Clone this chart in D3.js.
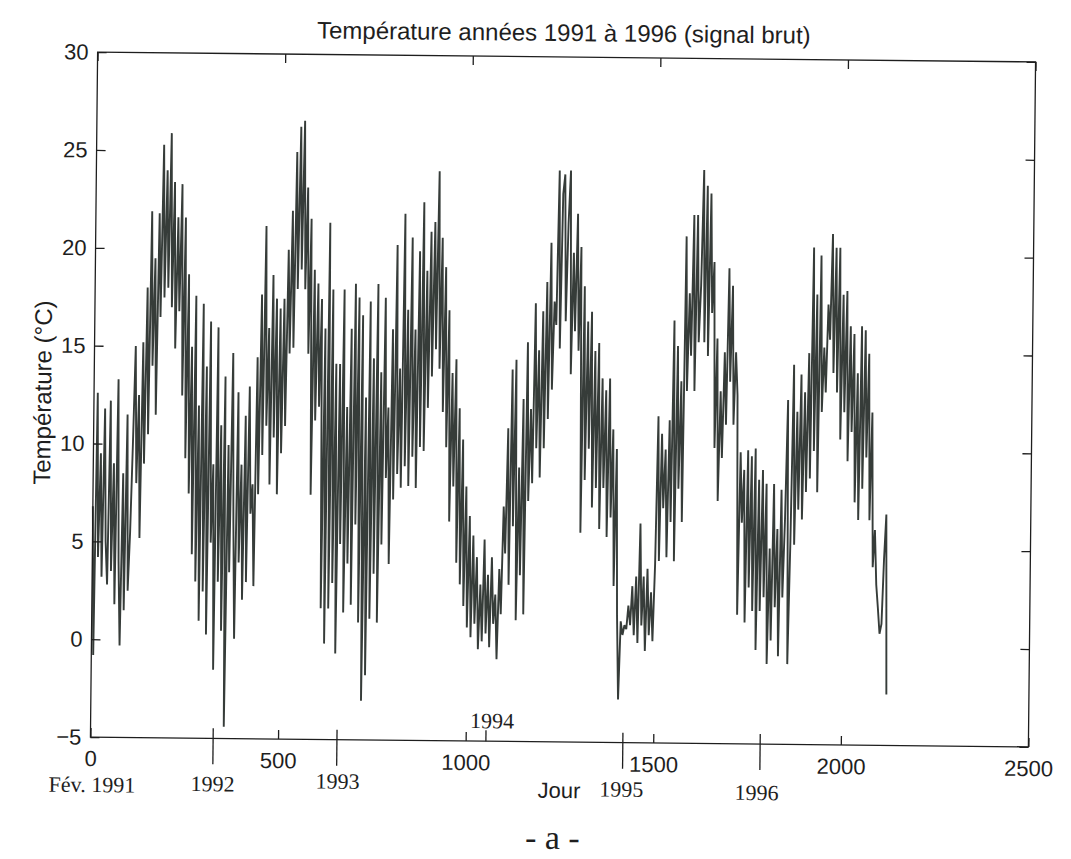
<!DOCTYPE html>
<html>
<head>
<meta charset="utf-8">
<script src="https://cdn.jsdelivr.net/npm/d3@7"></script>
<style>
  html, body { margin: 0; padding: 0; background: #ffffff; }
  svg { display: block; }
  .sans { font-family: "Liberation Sans", Arial, Helvetica, sans-serif; }
  .serif { font-family: "Liberation Serif", "Times New Roman", serif; }
</style>
</head>
<body>
<svg id="chart" width="1071" height="859"></svg>
<script>
// ---------------- data (one value every 5 days) ----------------
const stepDays = 5;

const temp1991 = { start: 0, values: [
  6.8, -0.8, 12.6, 4.2, 9.5, 3.2, 11.8, 5.0, 2.8, 12.2,
  3.5, 9.0, 1.8, 13.3, 4.0, -0.3, 8.5, 1.5, 11.5, 2.5,
  5.5, 10.0, 15.0, 8.0, 12.5, 5.2, 15.2, 9.0, 18.0, 10.5,
  21.9, 14.0, 19.5, 11.5, 21.8, 16.5, 25.3, 17.5, 24.0, 18.0,
  25.9, 17.0, 23.4, 14.9, 21.6, 16.8, 23.3, 12.5, 21.6, 9.3,
  18.7, 7.5, 15.0, 4.4, 17.6, 3.0, 12.0, 1.0, 17.2, 2.5,
  14.0, 0.3, 16.3, 5.0, 9.0, -1.5, 16.0, 3.0, 11.0, 0.5
]};

const temp1992 = { start: 350, values: [
  13.5, -4.4, 10.0, 3.5, 14.7, 6.0, 0.1, 12.7, 4.0, 9.0,
  2.1, 11.5, 3.0, 13.0, 6.5, 8.0, 2.8, 14.5, 7.5, 17.7,
  9.5, 21.2, 11.0, 16.0, 8.0, 18.7, 10.4, 17.5, 7.5, 17.0,
  9.6, 17.5, 11.0, 20.0, 14.7, 22.0, 15.0, 25.0, 18.0, 26.3,
  19.0, 26.6, 18.0, 23.2, 14.7, 21.6, 7.5, 19.0, 11.3, 18.3,
  12.0, 17.5, 1.7, 16.0, -0.1, 21.4, 1.7, 18.0, 3.0, 14.2,
  -0.6, 14.2, 5.0, 18.0, 1.5, 12.0, 4.0, 16.0, 1.9, 18.3
]};

const temp1993 = { start: 700, values: [
  6.0, 17.6, 1.0, 16.7, -3.0, 12.5, -1.7, 17.4, 1.2, 14.5,
  3.5, 18.3, 1.0, 13.8, 5.0, 17.6, 8.4, 12.0, 4.0, 16.0,
  7.3, 20.3, 8.6, 14.0, 7.9, 21.9, 9.0, 17.0, 8.0, 20.7,
  9.5, 16.0, 7.9, 20.0, 10.0, 22.5, 9.8, 19.0, 12.0, 21.0,
  13.6, 21.5, 15.0, 24.1, 14.0, 20.7, 11.8, 19.2, 10.0, 17.0,
  6.2, 13.8, 8.0, 14.5, 4.1, 12.0, 3.0, 10.4, 1.9, 8.0,
  0.8, 6.5, 0.3, 5.5, 1.0, 4.4, -0.3, 3.0, 0.1, 5.3
]};

const temp1994 = { start: 1050, values: [
  0.5, 3.5, -0.2, 4.4, 1.0, 2.5, -0.8, 3.8, 1.5, 7.0,
  4.6, 11.0, 3.0, 14.0, 6.0, 14.5, 1.2, 9.0, 3.5, 12.5,
  1.5, 15.4, 7.3, 12.0, 8.2, 17.4, 10.0, 15.0, 8.5, 17.0,
  10.0, 18.5, 11.5, 20.5, 13.0, 17.5, 16.3, 24.2, 15.1, 23.0,
  24.0, 16.5, 21.5, 24.2, 13.8, 20.0, 16.0, 22.0, 15.0, 20.3,
  5.7, 18.3, 8.4, 16.5, 10.0, 17.0, 7.0, 15.0, 8.0, 15.4,
  5.9, 13.6, 8.0, 13.0, 5.5, 13.6, 6.5, 11.0, 3.0, 10.0
]};

const temp1995 = { start: 1400, values: [
  1.5, -2.8, 1.2, 0.5, 1.0, 0.8, 2.0, 1.0, 3.0, 0.5,
  3.5, 0.1, 6.2, 1.0, 3.5, -0.3, 3.9, 0.5, 2.7, 0.2,
  4.1, 11.7, 4.3, 10.8, 7.0, 10.0, 4.5, 11.5, 6.3, 16.6,
  4.3, 15.3, 8.0, 13.5, 6.3, 20.9, 13.0, 18.0, 14.8, 22.0,
  13.0, 22.0, 15.5, 18.4, 24.3, 15.5, 23.5, 14.8, 23.1, 17.0,
  19.6, 10.1, 15.7, 7.4, 13.0, 9.6, 15.0, 11.3, 19.3, 13.5,
  18.4, 11.3, 15.0, 12.8, 1.6, 9.9, 6.3, 9.0, 1.2, 10.0
]};

const temp1996 = { start: 1750, values: [
  3.0, 9.7, 1.8, 10.1, -0.2, 8.5, 1.8, 9.0, 2.5, 8.3,
  -0.9, 5.0, 0.3, 8.3, 2.0, 6.0, -0.5, 8.0, 2.5, 6.5,
  12.6, -0.9, 5.4, 14.4, 5.2, 12.0, 7.0, 13.9, 6.5, 13.0,
  7.9, 15.0, 8.6, 20.4, 10.0, 18.0, 7.9, 20.0, 12.0, 15.3,
  13.0, 17.5, 15.7, 21.1, 14.0, 20.4, 13.0, 20.4, 10.6, 18.0,
  12.0, 18.2, 9.5, 16.4, 11.0, 16.0, 7.4, 14.0, 6.5, 16.4,
  8.1, 16.2, 9.7, 15.0, 6.5, 12.0, 4.1, 6.0, 3.2, 2.0,
  0.7, 1.2, 4.5, 6.8, -2.4
]};

const xTicks = [0, 500, 1000, 1500, 2000, 2500];
const yTicks = [-5, 0, 5, 10, 15, 20, 25, 30];
const yearLabels = ["Fév. 1991", "1992", "1993", "1994", "1995", "1996"];
const yearDays   = [0, 327, 657, 1054, 1419, 1785];
const yearLong   = [false, true, true, false, true, true];

const titleText = "Température années 1991 à 1996 (signal brut)";
const xLabelText = "Jour";
const yLabelText = "Température (°C)";
const captionText = "- a -";

// ---------------- drawing ----------------
const svg = d3.select("#chart");
const g = svg.append("g").attr("transform", "rotate(0.6 563 400)");

const x = d3.scaleLinear().domain([0, 2500]).range([94, 1032]);
const y = d3.scaleLinear().domain([-5, 30]).range([742, 57]);

const ink = "#1e1e1e";
const dataInk = "#363c39";

// data points
const series = [temp1991, temp1992, temp1993, temp1994, temp1995, temp1996];
const points = [];
series.forEach(s => s.values.forEach((v, i) => points.push({ day: s.start + i * stepDays, t: v })));

g.append("path")
  .datum(points)
  .attr("fill", "none")
  .attr("stroke", dataInk)
  .attr("stroke-width", 1.9)
  .attr("stroke-linejoin", "miter")
  .attr("stroke-miterlimit", 2)
  .attr("d", d3.line().x(d => x(d.day)).y(d => y(d.t)));

// frame
g.append("rect")
  .attr("x", x(0)).attr("y", y(30))
  .attr("width", x(2500) - x(0)).attr("height", y(-5) - y(30))
  .attr("fill", "none").attr("stroke", ink).attr("stroke-width", 1.3);

const fontTick = 22;

// bottom axis
const axB = g.append("g").attr("transform", `translate(0,${y(-5)})`)
  .call(d3.axisBottom(x).tickValues(xTicks).tickSizeInner(-9).tickSizeOuter(0).tickPadding(13.5).tickFormat(d3.format("d")));
// top axis
const axT = g.append("g").attr("transform", `translate(0,${y(30)})`)
  .call(d3.axisTop(x).tickValues(xTicks).tickSizeInner(-9).tickSizeOuter(0).tickFormat(""));
// left axis
const axL = g.append("g").attr("transform", `translate(${x(0)},0)`)
  .call(d3.axisLeft(y).tickValues(yTicks).tickSizeInner(-9).tickSizeOuter(0).tickPadding(9).tickFormat(d3.format("d")));
// right axis
const axR = g.append("g").attr("transform", `translate(${x(2500)},0)`)
  .call(d3.axisRight(y).tickValues(yTicks).tickSizeInner(-9).tickSizeOuter(0).tickFormat(""));

[axB, axT, axL, axR].forEach(a => {
  a.select(".domain").remove();
  a.selectAll("line").attr("stroke", ink).attr("stroke-width", 1.3);
  a.selectAll("text").attr("class", "sans").attr("fill", ink)
    .style("font-size", fontTick + "px").attr("font-family", null);
});

// year markers
yearDays.forEach((d, i) => {
  if (i === 0) return;
  const yb = y(-5);
  g.append("line")
    .attr("x1", x(d)).attr("x2", x(d))
    .attr("y1", yearLong[i] ? yb - 10 : yb - 11)
    .attr("y2", yearLong[i] ? yb + 26 : yb)
    .attr("stroke", ink).attr("stroke-width", 1.3);
});

// year labels
const yearLabelPos = [
  { dx: 2, y: 797 },   // Fév. 1991
  { dx: 0, y: 795 },   // 1992
  { dx: 1, y: 791 },   // 1993
  { dx: 6, y: 729 },   // 1994 (above the axis)
  { dx: -1, y: 796 },  // 1995
  { dx: -3, y: 798 }   // 1996
];
yearLabels.forEach((lab, i) => {
  g.append("text")
    .attr("class", "serif")
    .attr("x", x(yearDays[i]) + yearLabelPos[i].dx)
    .attr("y", yearLabelPos[i].y)
    .attr("text-anchor", "middle")
    .attr("fill", ink)
    .style("font-size", "22px")
    .text(lab);
});

// title (centred over the axes)
g.append("text")
  .attr("class", "sans")
  .attr("x", 560).attr("y", 41)
  .attr("text-anchor", "middle")
  .attr("fill", ink)
  .style("font-size", "24px")
  .text(titleText);

// x label
g.append("text")
  .attr("class", "sans")
  .attr("x", 563).attr("y", 798)
  .attr("text-anchor", "middle")
  .attr("fill", ink)
  .style("font-size", "22px")
  .text(xLabelText);

// y label
g.append("text")
  .attr("class", "sans")
  .attr("transform", "translate(51,398) rotate(-90)")
  .attr("text-anchor", "middle")
  .attr("fill", ink)
  .style("font-size", "24px")
  .text(yLabelText);

// caption
g.append("text")
  .attr("class", "serif")
  .attr("x", 557).attr("y", 849)
  .attr("text-anchor", "middle")
  .attr("fill", ink)
  .style("font-size", "34px")
  .text(captionText);
</script>
</body>
</html>
